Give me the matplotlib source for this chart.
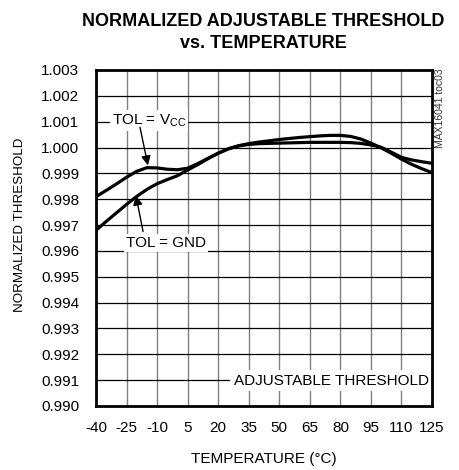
import matplotlib
matplotlib.use("Agg")
import matplotlib.pyplot as plt
import numpy as np

plt.rcParams['font.family'] = ['Liberation Sans', 'DejaVu Sans']

# temperature (°C)
temp = [-40, -35, -30, -25, -20, -15, -10, -5, 0, 5, 10, 15, 20, 25, 30, 35, 40,
        45, 50, 55, 60, 65, 70, 75, 80, 85, 90, 95, 100, 105, 110, 115, 120, 125]

# TOL = VCC
tol_vcc = [0.9981, 0.99834, 0.99859, 0.99885, 0.99908, 0.99922, 0.99921, 0.99916,
           0.99914, 0.9992, 0.99938, 0.99958, 0.99978, 0.99995, 1.00007, 1.00015,
           1.00021, 1.00026, 1.00031, 1.00035, 1.00039, 1.00042, 1.00045, 1.00047,
           1.00047, 1.00043, 1.00033, 1.00017, 0.99999, 0.99978, 0.99955, 0.99935,
           0.99918, 0.99903]

# TOL = GND
tol_gnd = [0.9968, 0.99714, 0.99747, 0.9978, 0.99811, 0.99838, 0.9986, 0.99876,
           0.99891, 0.99913, 0.99934, 0.99957, 0.99978, 0.99995, 1.00006, 1.00012,
           1.00015, 1.00016, 1.00017, 1.00018, 1.00019, 1.0002, 1.0002, 1.0002,
           1.0002, 1.00019, 1.00016, 1.0001, 1.00001, 0.99982, 0.99962, 0.99952,
           0.99945, 0.99939]

xticks = [-40, -25, -10, 5, 20, 35, 50, 65, 80, 95, 110, 125]
yticks = [0.990, 0.991, 0.992, 0.993, 0.994, 0.995, 0.996, 0.997, 0.998, 0.999,
          1.000, 1.001, 1.002, 1.003]

fig = plt.figure(figsize=(4.59, 4.70), dpi=100)
ax = fig.add_axes([0.2092, 0.1362, 0.732, 0.7149])

ax.set_xlim(-40, 125)
ax.set_ylim(0.990, 1.003)
ax.set_xticks(xticks)
ax.set_yticks(yticks)
ax.set_xticklabels([str(t) for t in xticks], fontsize=11)
ax.set_yticklabels(["%.3f" % v for v in yticks], fontsize=11)
ax.tick_params(axis='x', length=0, pad=11)
ax.tick_params(axis='y', length=0, pad=12)

# grid: vertical gray, horizontal black
for t in xticks[1:-1]:
    ax.axvline(t, color='#808080', lw=1.0, zorder=1)
for v in yticks[1:-1]:
    ax.axhline(v, color='black', lw=0.9, zorder=1)

for s in ax.spines.values():
    s.set_linewidth(2.0)
    s.set_zorder(5)

ax.plot(temp, tol_vcc, color='black', lw=2.3, zorder=3, solid_joinstyle='round')
ax.plot(temp, tol_gnd, color='black', lw=2.3, zorder=3, solid_joinstyle='round')

box = dict(facecolor='white', edgecolor='none', pad=1.5)
ax.text(-14, 1.00103, r'TOL = V$_{\mathregular{CC}}$', fontsize=11, ha='center',
        va='center', bbox=box, zorder=4)
ax.annotate('', xy=(-14.5, 0.99931), xytext=(-18.4, 1.00078),
            arrowprops=dict(arrowstyle='-|>', color='black', lw=1.0,
                            mutation_scale=14, shrinkA=0, shrinkB=0), zorder=4)

ax.text(-5.6, 0.99631, 'TOL = GND', fontsize=11, ha='center', va='center',
        bbox=box, zorder=4)
ax.annotate('', xy=(-20.4, 0.99814), xytext=(-16.9, 0.99675),
            arrowprops=dict(arrowstyle='-|>', color='black', lw=1.0,
                            mutation_scale=14, shrinkA=0, shrinkB=0), zorder=4)

ax.text(75.5, 0.99097, 'ADJUSTABLE THRESHOLD', fontsize=11, ha='center',
        va='center', bbox=dict(facecolor='white', edgecolor='none', pad=2.5),
        zorder=4)

ax.set_xlabel('TEMPERATURE (°C)', fontsize=11, labelpad=12)
ax.set_ylabel('NORMALIZED THRESHOLD', fontsize=9.6)
ax.yaxis.set_label_coords(-0.207, 0.54)

fig.text(0.573, 0.931, 'NORMALIZED ADJUSTABLE THRESHOLD\nvs. TEMPERATURE',
         ha='center', va='center', fontsize=13, fontweight='bold',
         linespacing=1.35)
fig.text(0.959, 0.77, 'MAX16041 toc03', rotation=90, ha='center', va='center',
         fontsize=7.5, color='#333333')

fig.savefig('out.png', dpi=100)
